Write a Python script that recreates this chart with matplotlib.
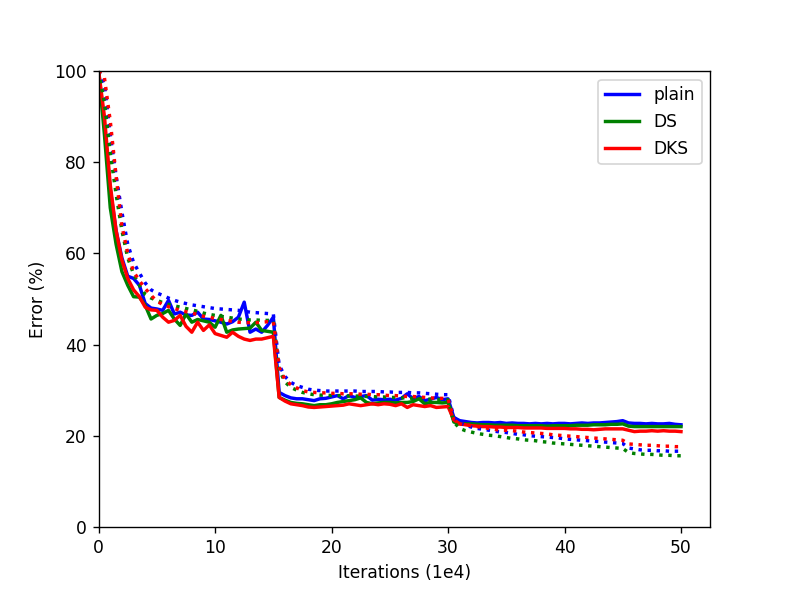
import matplotlib
matplotlib.use('Agg')
import matplotlib.pyplot as plt
import numpy as np

# iterations (1e4), one record every 0.5
iters = np.arange(0, 50.5, 0.5)

# solid lines: error per method
plain_err = [100, 88, 74, 65, 59, 55, 54.5, 53, 49, 48,
             47.8, 47.5, 49.7, 46.7, 47.1, 46.5, 46.4, 47.1, 45.6, 45.5,
             45.2, 44.9, 44.5, 45.0, 46.0, 49.3, 42.7, 43.4, 42.7, 44.2,
             46.0, 29.5, 28.8, 28.3, 28.1, 28.1, 27.9, 27.7, 28.1, 28.2,
             28.5, 28.8, 28.1, 28.8, 28.4, 28.6, 28.8, 27.8, 28.0, 27.9,
             28.0, 27.8, 28.2, 29.2, 28.1, 28.6, 27.7, 28.0, 28.4, 27.9,
             28.1, 24.0, 23.3, 23.1, 22.9, 22.8, 22.9, 22.9, 22.8, 22.9,
             22.7, 22.8, 22.7, 22.7, 22.6, 22.7, 22.6, 22.7, 22.6, 22.7,
             22.7, 22.6, 22.7, 22.8, 22.7, 22.8, 22.8, 22.9, 23.0, 23.1,
             23.3, 22.8, 22.7, 22.7, 22.6, 22.7, 22.6, 22.6, 22.7, 22.5,
             22.4]
ds_err = [100, 86, 70, 62, 56, 53, 50.5, 50.4, 48.6, 45.6,
          46.4, 46.8, 47.5, 45.6, 44.2, 46.7, 44.9, 45.5, 45.2, 44.9,
          43.8, 46.4, 42.7, 43.2, 43.4, 43.5, 43.6, 44.9, 43.1, 42.9,
          42.7, 28.4, 27.8, 27.3, 27.1, 27.0, 26.8, 26.6, 26.8, 26.8,
          27.0, 27.3, 27.5, 27.7, 27.9, 28.3, 27.3, 27.0, 27.2, 27.3,
          27.3, 27.2, 27.3, 27.3, 27.5, 28.1, 27.0, 27.3, 27.3, 27.2,
          27.3, 23.0, 22.7, 22.6, 22.6, 22.5, 22.4, 22.4, 22.3, 22.3,
          22.3, 22.3, 22.2, 22.2, 22.2, 22.2, 22.2, 22.1, 22.2, 22.2,
          22.2, 22.2, 22.3, 22.3, 22.3, 22.4, 22.4, 22.4, 22.5, 22.5,
          22.6, 22.1, 22.0, 22.0, 22.0, 22.0, 22.0, 22.0, 22.0, 22.0,
          22.0]
dks_err = [100, 90, 75, 65, 58.5, 54.5, 52, 50.5, 48.2, 47.6,
           47.5, 46, 44.9, 45.3, 46.4, 44, 42.7, 44.9, 43.1, 44.3,
           42.4, 42, 41.6, 42.7, 41.8, 41.2, 40.9, 41.2, 41.2, 41.5,
           41.8, 28.4, 27.6, 27.0, 26.8, 26.6, 26.3, 26.2, 26.3, 26.4,
           26.5, 26.6, 26.7, 27.0, 26.8, 26.6, 26.8, 27.0, 26.8, 27.0,
           26.9, 26.6, 27.0, 26.2, 26.8, 26.6, 26.4, 26.6, 26.2, 26.3,
           26.4, 23.5, 22.6, 22.4, 22.2, 22.1, 22.0, 22.0, 21.9, 21.9,
           21.8, 21.8, 21.8, 21.7, 21.7, 21.7, 21.7, 21.6, 21.6, 21.6,
           21.6, 21.5, 21.5, 21.4, 21.4, 21.3, 21.4, 21.5, 21.5, 21.5,
           21.5, 21.2, 20.9, 21.0, 21.0, 21.1, 21.0, 21.1, 21.0, 21.0,
           20.9]

# dotted lines: training error per method
plain_train = [100, 97, 86, 77, 69, 62, 58, 55.7, 53.5, 52,
               51.3, 50.8, 50.2, 49.7, 49.3, 49.0, 48.7, 48.5, 48.3, 48.1,
               47.9, 47.8, 47.7, 47.6, 47.5, 47.3, 47.1, 47.0, 46.9, 46.8,
               46.7, 35.5, 33.0, 31.7, 31.0, 30.6, 30.2, 30.0, 29.9, 29.8,
               29.8, 29.8, 29.8, 29.8, 29.8, 29.7, 29.7, 29.7, 29.7, 29.6,
               29.6, 29.5, 29.5, 29.5, 29.4, 29.4, 29.3, 29.2, 29.1, 29.0,
               29.0, 24.0, 22.8, 22.3, 21.9, 21.6, 21.4, 21.2, 21.0, 20.8,
               20.7, 20.5, 20.3, 20.2, 20.0, 19.9, 19.8, 19.7, 19.6, 19.5,
               19.3, 19.2, 19.1, 19.0, 18.9, 18.8, 18.7, 18.6, 18.5, 18.4,
               18.3, 17.3, 17.1, 16.9, 16.8, 16.8, 16.7, 16.7, 16.6, 16.6,
               16.6]
ds_train = [100, 93, 82, 73, 65, 59, 55.5, 53, 51, 50.2,
            49.7, 49.2, 48.8, 48.5, 48.2, 47.9, 47.6, 47.3, 46.9, 46.6,
            46.4, 46.2, 46.0, 45.8, 45.6, 45.5, 45.4, 45.4, 45.3, 45.3,
            45.3, 34.5, 31.8, 30.6, 30.0, 29.5, 29.2, 29.0, 28.9, 28.9,
            28.8, 28.8, 28.8, 28.7, 28.7, 28.7, 28.6, 28.6, 28.5, 28.5,
            28.4, 28.4, 28.3, 28.3, 28.2, 28.1, 28.1, 28.0, 28.0, 27.9,
            27.9, 23.0, 21.6, 21.1, 20.8, 20.5, 20.3, 20.1, 20.0, 19.8,
            19.6, 19.4, 19.3, 19.1, 19.0, 18.9, 18.7, 18.6, 18.4, 18.3,
            18.2, 18.1, 18.0, 17.9, 17.8, 17.7, 17.6, 17.5, 17.4, 17.3,
            17.2, 16.3, 16.1, 16.0, 15.9, 15.9, 15.8, 15.7, 15.7, 15.6,
            15.6]
dks_train = [100, 98.5, 89, 77, 66, 60, 56, 54, 52.3, 50.8,
             49.5, 48.8, 48.3, 47.9, 47.5, 47.2, 46.9, 46.6, 46.2, 46.0,
             45.7, 45.5, 45.3, 45.1, 44.9, 44.8, 44.8, 44.8, 44.9, 45.0,
             45.0, 35.0, 32.3, 31.2, 30.5, 29.9, 29.6, 29.5, 29.4, 29.4,
             29.3, 29.3, 29.2, 29.2, 29.2, 29.1, 29.1, 29.0, 29.0, 28.9,
             28.8, 28.8, 28.7, 28.6, 28.6, 28.5, 28.4, 28.3, 28.2, 28.2,
             28.1, 23.5, 22.6, 22.4, 22.2, 22.0, 21.8, 21.6, 21.4, 21.2,
             21.2, 21.1, 21.0, 20.8, 20.7, 20.6, 20.5, 20.4, 20.2, 20.1,
             20.0, 19.9, 19.8, 19.7, 19.6, 19.5, 19.4, 19.3, 19.2, 19.1,
             19.0, 18.2, 18.1, 18.0, 17.9, 17.9, 17.8, 17.7, 17.7, 17.6,
             17.6]

# default 6.4x4.8 figure, rendered a bit denser to get 789x592
dpi = 123.3
fig = plt.figure(figsize=(789 / dpi, 592 / dpi), dpi=dpi)
ax = fig.add_subplot(111)

ax.plot(iters, plain_err, color='blue', lw=2, label='plain')
ax.plot(iters, ds_err, color='green', lw=2, label='DS')
ax.plot(iters, dks_err, color='red', lw=2, label='DKS')
ax.plot(iters, plain_train, color='blue', lw=2, ls=':')
ax.plot(iters, ds_train, color='green', lw=2, ls=':')
ax.plot(iters, dks_train, color='red', lw=2, ls=':')

ax.set_xlim(left=0)
ax.set_ylim(0, 100)
ax.set_xlabel('Iterations (1e4)')
ax.set_ylabel('Error (%)')
ax.legend(loc='upper right')

fig.savefig('out.png', dpi=dpi)
